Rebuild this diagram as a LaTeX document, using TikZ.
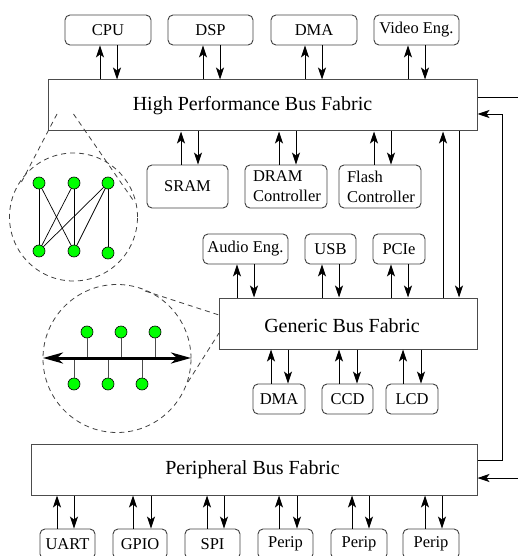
\documentclass[tikz,border=0pt]{standalone}
\usepackage{fontspec}
\setmainfont{Liberation Serif}
\usetikzlibrary{arrows.meta,calc}
\newcommand\arrowsabove[4]{% box above bus: #1 box, #2 bus, #3 x of up arrow, #4 x of down arrow
  \draw[arr] (#2.north -| #3,0) -- (#1.south -| #3,0);
  \draw[arr] (#1.south -| #4,0) -- (#2.north -| #4,0);}
\newcommand\arrowsbelow[4]{% box below bus
  \draw[arr] (#1.north -| #3,0) -- (#2.south -| #3,0);
  \draw[arr] (#2.south -| #4,0) -- (#1.north -| #4,0);}
\begin{document}
\begin{tikzpicture}[x=1pt,y=-1pt,
  box/.style={draw=black!75, rounded corners=5pt, minimum height=30pt, inner sep=0pt,
    font=\fontsize{16.5}{20}\selectfont, line width=0.9pt},
  tallbox/.style={box, minimum height=43pt},
  bus/.style={draw=black!70, minimum height=51pt, inner sep=0pt, line width=1pt},
  buslabel/.style={font=\fontsize{20}{24}\selectfont, inner sep=0pt},
  arr/.style={-{Stealth[length=12pt,width=8pt,inset=3pt]}, line width=0.9pt},
  plain/.style={line width=0.9pt},
  gnode/.style={circle, draw=black, fill=green, minimum size=12pt, inner sep=0pt, line width=0.6pt},
  gedge/.style={black, line width=0.7pt},
  stem/.style={black!70, line width=0.9pt},
  spycircle/.style={circle, draw=black!75, dash pattern=on 5pt off 4pt, line width=0.8pt, inner sep=0pt},
  spyline/.style={black!75, dash pattern=on 5pt off 4pt, line width=0.8pt},
  busarrow/.style={{Stealth[length=20pt,width=11pt,inset=6pt]}-{Stealth[length=20pt,width=11pt,inset=6pt]}, line width=3pt}
]
\useasboundingbox (0,0) rectangle (518,556);

% buses
\node[bus, minimum width=429pt, label={[buslabel, xshift=-10pt]center:High Performance Bus Fabric}] (hp) at (262.5,105.5) {};
\node[bus, minimum width=258pt, label={[buslabel, xshift=-6pt, yshift=-2pt]center:Generic Bus Fabric}] (gen) at (348,323.5) {};
\node[bus, minimum width=446pt, label={[buslabel, xshift=-1.5pt]center:Peripheral Bus Fabric}] (per) at (254,469.5) {};

% top row
\node[box, minimum width=86pt] (cpu) at (108,30) {CPU};
\node[box, minimum width=85pt] (dsp) at (210.5,30) {DSP};
\node[box, minimum width=86pt] (dma) at (314,30) {DMA};
\node[box, minimum width=85pt] (vid) at (416.5,30) {Video Eng.};

% memories
\node[tallbox, minimum width=81pt] (sram) at (187.5,186.5) {SRAM};
\node[tallbox, minimum width=82pt, text width=66pt, align=left] (dram) at (286,186.5) {DRAM\\Controller};
\node[tallbox, minimum width=82pt, text width=66pt, align=left] (flash) at (380,186.5) {Flash\\Controller};

% generic top
\node[box, minimum width=85pt] (audio) at (245.5,249) {Audio Eng.};
\node[box, minimum width=51pt] (usb) at (330.5,249) {USB};
\node[box, minimum width=52pt] (pcie) at (399,249) {PCIe};

% generic bottom
\node[box, minimum width=52pt] (dmab) at (279,399) {DMA};
\node[box, minimum width=51pt] (ccd) at (347.5,399) {CCD};
\node[box, minimum width=52pt] (lcd) at (412,399) {LCD};

% peripherals
\node[box, minimum width=55pt] (uart) at (67.5,544) {UART};
\node[box, minimum width=54pt] (gpio) at (140,544) {GPIO};
\node[box, minimum width=55pt] (spi) at (212.5,544) {SPI};
\node[box, minimum width=55pt] (pa) at (285.5,544) {Perip};
\node[box, minimum width=56pt] (pb) at (359,544) {Perip};
\node[box, minimum width=56pt] (pc) at (431,544) {Perip};

% arrows
\arrowsabove{cpu}{hp}{100}{117}
\arrowsabove{dsp}{hp}{203}{220}
\arrowsabove{dma}{hp}{305}{322}
\arrowsabove{vid}{hp}{408}{425}
\arrowsbelow{sram}{hp}{181}{198}
\arrowsbelow{dram}{hp}{279}{296}
\arrowsbelow{flash}{hp}{374}{391}
\arrowsabove{audio}{gen}{237}{254}
\arrowsabove{usb}{gen}{322}{339}
\arrowsabove{pcie}{gen}{391}{408}
\arrowsbelow{dmab}{gen}{271}{288}
\arrowsbelow{ccd}{gen}{339}{357}
\arrowsbelow{lcd}{gen}{403}{421}
\arrowsbelow{uart}{per}{57}{74}
\arrowsbelow{gpio}{per}{133}{151}
\arrowsbelow{spi}{per}{207}{224}
\arrowsbelow{pa}{per}{279}{297}
\arrowsbelow{pb}{per}{352}{369}
\arrowsbelow{pc}{per}{425}{442}

% HP <-> generic
\draw[arr] (gen.north -| 443,0) -- (hp.south -| 443,0);
\draw[arr] (hp.south -| 459,0) -- (gen.north -| 459,0);

% right side links
\coordinate (hpout) at (518,97);
\draw[plain] (hp.east |- 0,97) -- (hpout);
\coordinate (retlow) at (502,460);
\coordinate (rethigh) at (502,114);
\draw[arr] (per.east |- 0,460) -- (retlow) -- (rethigh) -- (hp.east |- 0,114);
\coordinate (perin) at (518,478);
\draw[arr] (perin) -- (per.east |- 0,478);

% upper zoom circle: crossbar
\node[spycircle, minimum size=128pt] (c1) at (73.5,217) {};
\coordinate (s1a) at (57,114);
\coordinate (s1b) at (21.5,182);
\coordinate (s2a) at (73.5,114);
\coordinate (s2b) at (133,200);
\draw[spyline] (s1a) -- (s1b);
\draw[spyline] (s2a) -- (s2b);
\node[gnode] (u1) at (39,183) {};
\node[gnode] (u2) at (74,183) {};
\node[gnode] (u3) at (108,183) {};
\node[gnode] (d1) at (39,251) {};
\node[gnode] (d2) at (74,251) {};
\node[gnode] (d3) at (108,253) {};
\draw[gedge] (u1) -- (d1);
\draw[gedge] (u1) -- (d2);
\draw[gedge] (u2) -- (d1);
\draw[gedge] (u2) -- (d2);
\draw[gedge] (u3) -- (d1);
\draw[gedge] (u3) -- (d2);
\draw[gedge] (u3) -- (d3);

% lower zoom circle: shared bus
\node[spycircle, minimum size=148pt] (c2) at (117,358.5) {};
\coordinate (s3a) at (145,291);
\coordinate (s3b) at (219,315);
\coordinate (s4a) at (188,382);
\coordinate (s4b) at (219,333);
\draw[spyline] (s3a) -- (s3b);
\draw[spyline] (s4a) -- (s4b);
\coordinate (bl) at (43,358);
\coordinate (br) at (191,358);
\node[gnode] (t1) at (87,332) {};
\node[gnode] (t2) at (121,332) {};
\node[gnode] (t3) at (155,332) {};
\node[gnode] (b1) at (74,384) {};
\node[gnode] (b2) at (108,384) {};
\node[gnode] (b3) at (142,384) {};
\draw[stem] (t1.south) -- (t1 |- bl);
\draw[stem] (t2.south) -- (t2 |- bl);
\draw[stem] (t3.south) -- (t3 |- bl);
\draw[stem] (b1.north) -- (b1 |- bl);
\draw[stem] (b2.north) -- (b2 |- bl);
\draw[stem] (b3.north) -- (b3 |- bl);
\draw[busarrow] (bl) -- (br);
\end{tikzpicture}
\end{document}
